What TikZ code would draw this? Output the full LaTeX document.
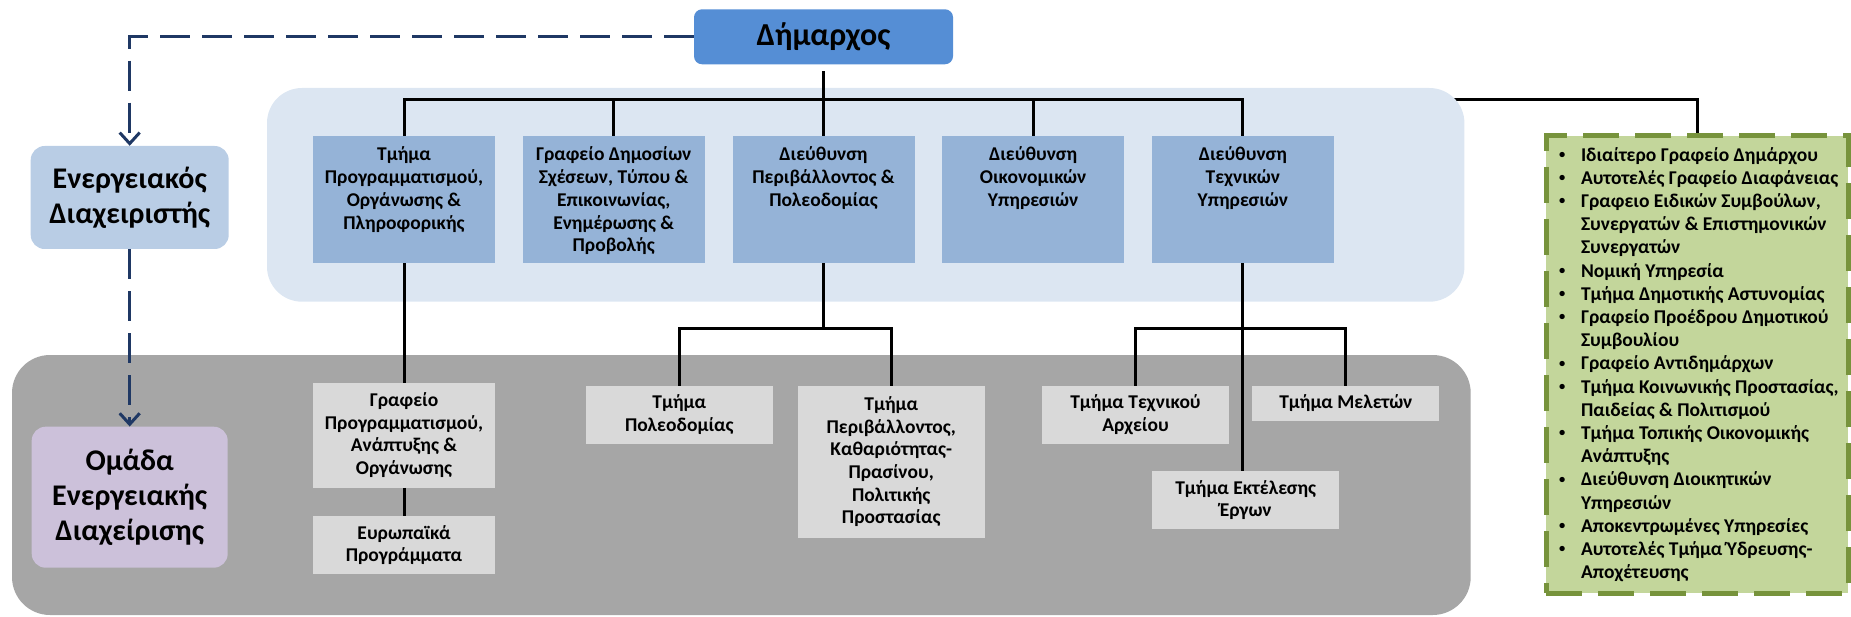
\documentclass[tikz,border=0pt]{standalone}
\usepackage{fontspec}
\setmainfont{Carlito}
\usetikzlibrary{arrows.meta}

\definecolor{mayorblue}{HTML}{558ED5}
\definecolor{paneblue}{HTML}{DCE6F2}
\definecolor{dirblue}{HTML}{95B3D7}
\definecolor{energyblue}{HTML}{B9CDE5}
\definecolor{teamlilac}{HTML}{CCC1DA}
\definecolor{panegrey}{HTML}{A6A6A6}
\definecolor{unitgrey}{HTML}{D9D9D9}
\definecolor{groupgreen}{HTML}{C3D69B}
\definecolor{groupedge}{HTML}{77933C}
\definecolor{navy}{HTML}{1F3864}

% list lines inside the green group box
\newcommand\smallbullet{\raisebox{2.6pt}{\fontsize{12.5}{12.5}\selectfont\textbullet}}
\newcommand\gitem[1]{\hbox to 302pt{\hbox to 35pt{\hspace{13pt}\smallbullet\hfil}#1\hfil}}
\newcommand\gcont[1]{\hbox to 302pt{\hspace{35pt}#1\hfil}}

\begin{document}
\begin{tikzpicture}[x=1pt, y=-1pt,
  conn/.style={line width=3pt, black},
  dashconn/.style={line width=3pt, navy, dash pattern=on 30pt off 12pt,
    -{Straight Barb[length=11pt, width=20pt]}},
  boxfont/.style={font=\bfseries\fontsize{19.5}{22.7}\selectfont},
  mayorbox/.style={fill=mayorblue, rounded corners=8pt, inner sep=0,
    minimum width=259pt, minimum height=55pt,
    font=\bfseries\fontsize{32}{36}\selectfont},
  sidebox/.style={rounded corners=14pt, inner sep=0, align=center,
    font=\bfseries\fontsize{30}{35}\selectfont},
  dirbox/.style={fill=dirblue, inner sep=0,
    minimum width=182pt, minimum height=127pt},
  toptext/.style={anchor=north, yshift=-11pt, align=center, inner sep=0,
    boxfont},
  unitbox/.style={fill=unitgrey, inner sep=0, align=center,
    minimum width=187pt, boxfont},
  groupbox/.style={fill=groupgreen, draw=groupedge, line width=5pt,
    dash pattern=on 36pt off 16pt, inner sep=0,
    minimum width=302pt, minimum height=457pt,
    font=\bfseries\fontsize{19.5}{23.2}\selectfont}
]
\useasboundingbox (0,0) rectangle (1851,617);

% bus levels
\coordinate (bus) at (0,99.3);
\coordinate (sub) at (0,328.3);

% top and side boxes
\node[mayorbox] (dm) at (823.5,36.8) {Δήμαρχος};
\node[sidebox, fill=energyblue, minimum width=198pt, minimum height=103pt]
  (ea) at (129.7,197.5) {Ενεργειακός\\Διαχειριστής};
\node[groupbox] (grp) at (1697,364.5) {\vbox{%
  \gitem{Ιδιαίτερο Γραφείο Δημάρχου}
  \gitem{Αυτοτελές Γραφείο Διαφάνειας}
  \gitem{Γραφειο Ειδικών Συμβούλων,}
  \gcont{Συνεργατών \& Επιστημονικών}
  \gcont{Συνεργατών}
  \gitem{Νομική Υπηρεσία}
  \gitem{Τμήμα Δημοτικής Αστυνομίας}
  \gitem{Γραφείο Προέδρου Δημοτικού}
  \gcont{Συμβουλίου}
  \gitem{Γραφείο Αντιδημάρχων}
  \gitem{Τμήμα Κοινωνικής Προστασίας,}
  \gcont{Παιδείας \& Πολιτισμού}
  \gitem{Τμήμα Τοπικής Οικονομικής}
  \gcont{Ανάπτυξης}
  \gitem{Διεύθυνση Διοικητικών}
  \gcont{Υπηρεσιών}
  \gitem{Αποκεντρωμένες Υπηρεσίες}
  \gitem{Αυτοτελές Τμήμα Ύδρευσης-}
  \gcont{Αποχέτευσης}}};

% link from the mayor to the independent offices (runs behind the panel)
\draw[conn] (dm.south |- bus) -- (grp.north |- bus) -- (grp.north);

% background panels
\fill[paneblue] (267,88) [rounded corners=35pt] rectangle (1464.4,301.7);
\fill[panegrey] (12,355) [rounded corners=38pt] rectangle (1470.7,615);

\node[sidebox, fill=teamlilac, minimum width=196pt, minimum height=141pt]
  (oed) at (129.7,497.2) {Ομάδα\\Ενεργειακής\\Διαχείρισης};

% directorates
\node[dirbox, label={[toptext]north:{Τμήμα\\Προγραμματισμού,\\Οργάνωσης \&\\Πληροφορικής}}]
  (b1) at (404,199.5) {};
\node[dirbox, label={[toptext]north:{Γραφείο Δημοσίων\\Σχέσεων, Τύπου \&\\Επικοινωνίας,\\Ενημέρωσης \&\\Προβολής}}]
  (b2) at (613.7,199.5) {};
\node[dirbox, label={[toptext]north:{Διεύθυνση\\Περιβάλλοντος \&\\Πολεοδομίας}}]
  (b3) at (823.5,199.5) {};
\node[dirbox, label={[toptext]north:{Διεύθυνση\\Οικονομικών\\Υπηρεσιών}}]
  (b4) at (1033.1,199.5) {};
\node[dirbox, label={[toptext]north:{Διεύθυνση\\Τεχνικών\\Υπηρεσιών}}]
  (b5) at (1242.8,199.5) {};

% departments
\node[unitbox, minimum width=182pt, minimum height=105pt] (u1) at (404,435.2)
  {Γραφείο\\Προγραμματισμού,\\Ανάπτυξης \&\\Οργάνωσης};
\node[unitbox, minimum width=182pt, minimum height=58.6pt] (u2) at (404,545)
  {Ευρωπαϊκά\\Προγράμματα};
\node[unitbox, minimum height=58.3pt] (u3) at (679.3,414.9)
  {Τμήμα\\Πολεοδομίας};
\node[unitbox, minimum height=152pt] (u4) at (891.2,461.7)
  {Τμήμα\\Περιβάλλοντος,\\Καθαριότητας-\\Πρασίνου,\\Πολιτικής\\Προστασίας};
\node[unitbox, minimum height=58.3pt] (u5) at (1135.5,414.9)
  {Τμήμα Τεχνικού\\Αρχείου};
\node[unitbox, minimum height=35pt] (u6) at (1345.8,403.2)
  {Τμήμα Μελετών};
\node[unitbox, minimum height=58.3pt] (u7) at (1245.7,500)
  {Τμήμα Εκτέλεσης\\Έργων};

% mayor to directorates
\draw[conn] ([yshift=-7pt]dm.south) -- (dm.south |- bus);
\draw[conn] (b1.north) -- (b1.north |- bus) -- (b5.north |- bus) -- (b5.north);
\foreach \b in {b2,b3,b4} \draw[conn] (\b.north) -- (\b.north |- bus);

% directorates to departments
\draw[conn] (b1.south) -- (u1.north);
\draw[conn] (u1.south) -- (u2.north);
\draw[conn] (b3.south) -- (b3.south |- sub);
\draw[conn] (u3.north) -- (u3.north |- sub) -- (u4.north |- sub) -- (u4.north);
\draw[conn] (b5.south) -- (b5.south |- u7.north);
\draw[conn] (u5.north) -- (u5.north |- sub) -- (u6.north |- sub) -- (u6.north);

% energy management links
\draw[dashconn] (dm.west) -| (ea.north);
\draw[dashconn] (ea.south) -- (oed.north);
\end{tikzpicture}
\end{document}
